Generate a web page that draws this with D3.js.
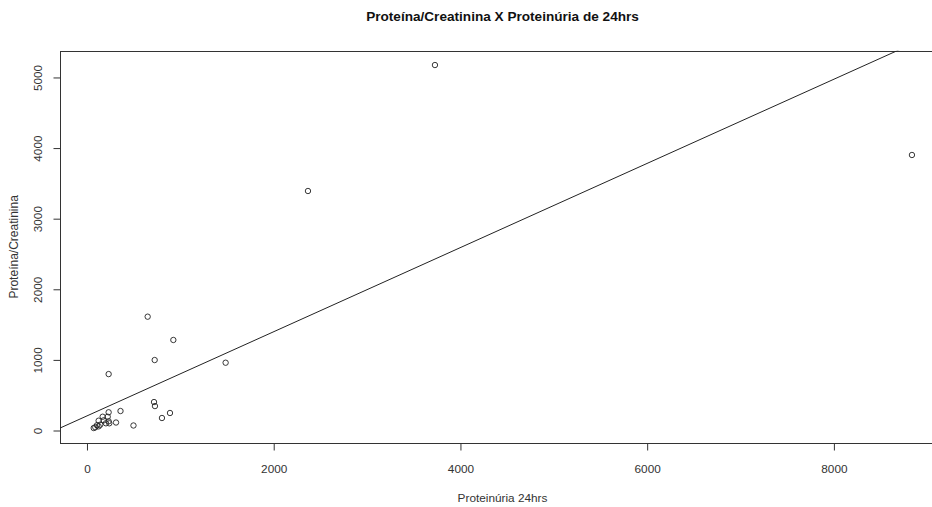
<!DOCTYPE html>
<html>
<head>
<meta charset="utf-8">
<script src="https://cdn.jsdelivr.net/npm/d3@7"></script>
<style>
  html, body { margin: 0; padding: 0; background: #fff; }
  svg { display: block; }
  text { font-family: "Liberation Sans", Arial, sans-serif; }
</style>
</head>
<body>
<svg id="chart" width="932" height="507"></svg>
<script>
// Data
const proteinuria24h = [3727, 2367, 8836, 650, 925, 725, 1485, 232, 718, 728, 889, 803, 498, 359, 311,
  232, 222, 168, 232, 239, 179, 125, 107, 89, 72, 125, 142, 203];
const proteinaCreatinina = [5176, 3392, 3902, 1612, 1282, 998, 960, 799, 403, 346, 248, 177, 71, 276, 113,
  258, 195, 195, 130, 102, 144, 139, 74, 45, 35, 59, 82, 102];
const xTicks = [0, 2000, 4000, 6000, 8000];
const yTicks = [0, 1000, 2000, 3000, 4000, 5000];
const fitLine = { intercept: 207, slope: 0.596 };
const xDomain = [-289, 9190];
const yDomain = [-177, 5379];

const title = "Proteína/Creatinina X Proteinúria de 24hrs";
const xLabel = "Proteinúria 24hrs";
const yLabel = "Proteína/Creatinina";

const svg = d3.select("#chart");
const plot = { left: 60, right: 945, top: 50.7, bottom: 443 };

const x = d3.scaleLinear().domain(xDomain).range([plot.left, plot.right]);
const y = d3.scaleLinear().domain(yDomain).range([plot.bottom, plot.top]);

svg.append("defs").append("clipPath").attr("id", "clip")
  .append("rect")
  .attr("x", plot.left).attr("y", plot.top)
  .attr("width", plot.right - plot.left).attr("height", plot.bottom - plot.top);

// Box
svg.append("rect")
  .attr("x", plot.left + 0.5).attr("y", Math.round(plot.top) + 0.5)
  .attr("width", plot.right - plot.left).attr("height", Math.round(plot.bottom) - Math.round(plot.top))
  .attr("fill", "none").attr("stroke", "#333").attr("stroke-width", 1);

// X axis
const xAxis = d3.axisBottom(x).tickValues(xTicks).tickSize(7).tickPadding(14).tickFormat(d3.format("d"));
const gx = svg.append("g").attr("transform", `translate(0,${Math.round(plot.bottom) + 0.5})`).call(xAxis);
gx.select(".domain").remove();
gx.selectAll("line").attr("stroke", "#333");
gx.selectAll("text").attr("font-size", 11.8).attr("fill", "#333");

// Y axis
const yAxis = d3.axisLeft(y).tickValues(yTicks).tickSize(7).tickPadding(0).tickFormat(d3.format("d"));
const gy = svg.append("g").attr("transform", `translate(${plot.left + 0.5},0)`).call(yAxis);
gy.select(".domain").remove();
gy.selectAll("line").attr("stroke", "#333");
gy.selectAll("text")
  .attr("font-size", 11.8).attr("fill", "#333")
  .attr("x", null).attr("dy", null)
  .attr("text-anchor", "middle")
  .attr("transform", "translate(-23,0) rotate(-90)")
  .attr("dy", "0.35em");

// Regression line
svg.append("line")
  .attr("clip-path", "url(#clip)")
  .attr("x1", x(xDomain[0])).attr("y1", y(fitLine.intercept + fitLine.slope * xDomain[0]))
  .attr("x2", x(xDomain[1])).attr("y2", y(fitLine.intercept + fitLine.slope * xDomain[1]))
  .attr("stroke", "#222").attr("stroke-width", 1);

// Points
svg.append("g").selectAll("circle")
  .data(proteinuria24h.map((v, i) => [v, proteinaCreatinina[i]]))
  .join("circle")
  .attr("cx", d => x(d[0])).attr("cy", d => y(d[1]))
  .attr("r", 2.7)
  .attr("fill", "none").attr("stroke", "#222").attr("stroke-width", 0.9);

// Title and labels
svg.append("text")
  .attr("x", (plot.left + plot.right) / 2).attr("y", 21)
  .attr("text-anchor", "middle").attr("font-size", 13.6).attr("font-weight", "bold").attr("fill", "#111")
  .text(title);

svg.append("text")
  .attr("x", (plot.left + plot.right) / 2).attr("y", 502)
  .attr("text-anchor", "middle").attr("font-size", 11.8).attr("fill", "#333")
  .text(xLabel);

svg.append("text")
  .attr("transform", `translate(18,${(plot.top + plot.bottom) / 2}) rotate(-90)`)
  .attr("text-anchor", "middle").attr("font-size", 12).attr("fill", "#333")
  .text(yLabel);
</script>
</body>
</html>
